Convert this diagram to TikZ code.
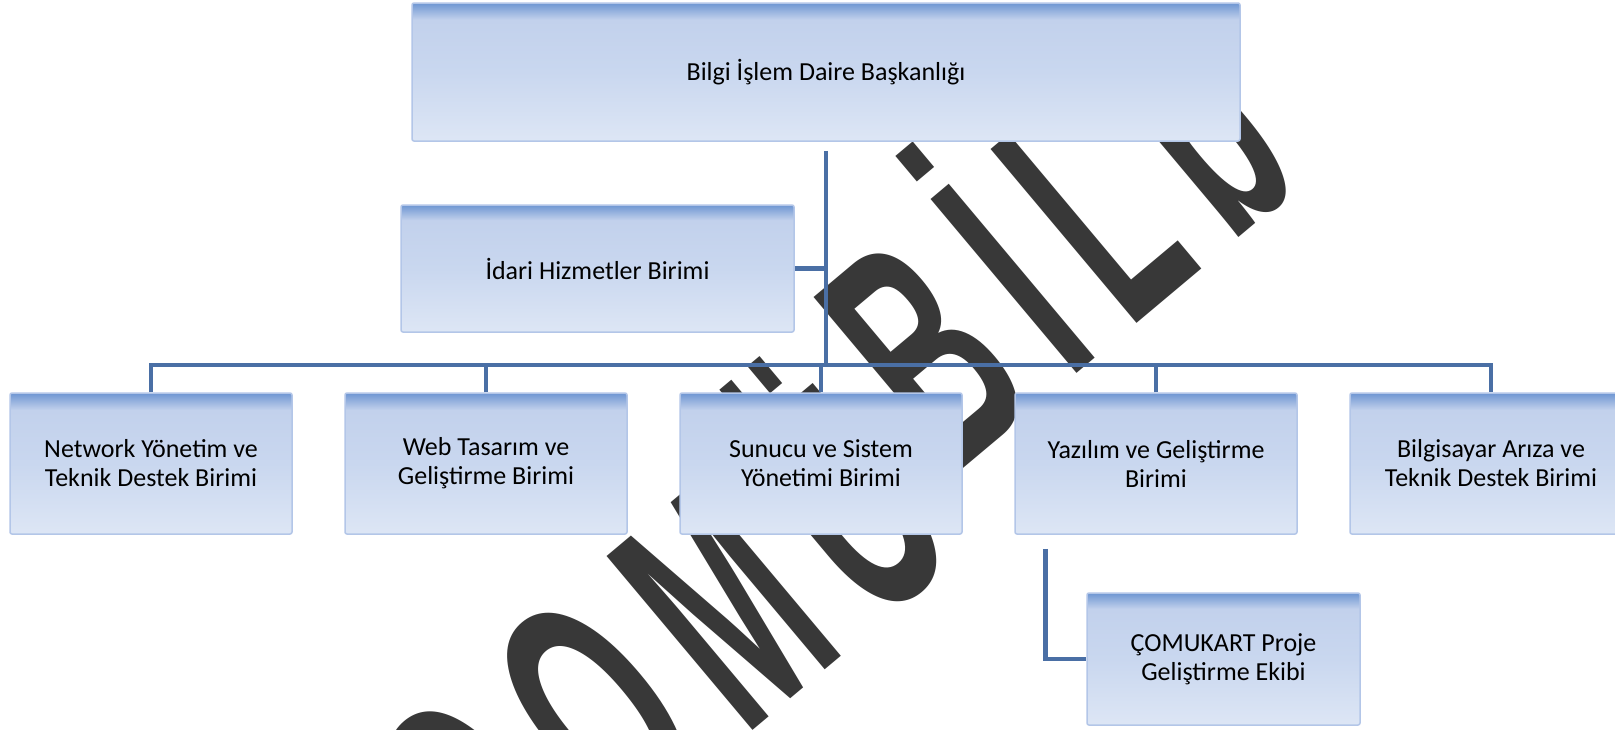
\documentclass[tikz,border=0pt]{standalone}
\usepackage{fontspec}
\setmainfont{Carlito}
\newfontfamily\markfont[LetterSpace=20]{Liberation Sans}
\definecolor{linkblue}{HTML}{4A6FA5}
\definecolor{unitedge}{HTML}{B3C6E8}
\definecolor{shadetop}{HTML}{6E96D2}
\definecolor{shadehi}{HTML}{C2D1EC}
\definecolor{shademid}{HTML}{C9D7EF}
\definecolor{shadebot}{HTML}{DDE6F5}
\definecolor{markgray}{HTML}{383838}
\pgfdeclareverticalshading{unitshade}{100bp}{color(0bp)=(shadebot); color(25bp)=(shadebot); color(50bp)=(shademid); color(69bp)=(shadehi); color(75bp)=(shadetop); color(100bp)=(shadetop)}

\begin{document}
\begin{tikzpicture}[x=1pt,y=-1pt,
		unit/.style={draw=unitedge, line width=1.5pt, rounded corners=2pt, shade, shading=unitshade, align=center, inner sep=0pt, font=\fontsize{26}{29}\selectfont, minimum width=282pt, minimum height=141pt},
		link/.style={draw=linkblue, line width=4.5pt},
		watermark/.style={font=\markfont\bfseries\fontsize{330}{330}\selectfont, text=markgray, rotate=40, xscale=.5, inner sep=0pt}]
		\useasboundingbox[fill=white] (0,0) rectangle (1615,729);
		\node [watermark] (wmleft) at (667,663) {ÇOMÜ};
		\node [watermark] (wmright) at (1040,222) {BİLb};
		\node [unit, minimum width=828pt, minimum height=138pt] (daire) at (826,72) {Bilgi İşlem Daire Başkanlığı};
		\node [unit, minimum width=393pt, minimum height=127pt] (idari) at (597.5,268.5) {İdari Hizmetler Birimi};
		\foreach \n/\txt [count=\i from 0] in {network/{Network Yönetim ve\\Teknik Destek Birimi}, web/{Web Tasarım ve\\Geliştirme Birimi}, sunucu/{Sunucu ve Sistem\\Yönetimi Birimi}, yazilim/{Yazılım ve Geliştirme\\Birimi}, ariza/{Bilgisayar Arıza ve\\Teknik Destek Birimi}} {
			\node [unit] (\n) at (151+335*\i,463.5) {\txt};
		}
		\node [unit, minimum width=273pt, minimum height=132pt] (proje) at (1223.5,659) {ÇOMUKART Proje\\Geliştirme Ekibi};
		\coordinate (bus) at (826,365);
		\draw [link] ([yshift=-9pt]daire.south) -- (bus);
		\draw [link] (network.north) |- (bus) -| (ariza.north);
		\foreach \n in {web, sunucu, yazilim} {
			\draw [link] (\n.north) -- (\n.north |- bus);
		}
		\draw [link] (idari.east) -- (idari.east -| bus);
		\draw [link] ([xshift=31pt,yshift=-14pt]yazilim.south west) |- (proje.west);
	\end{tikzpicture}
\end{document}
